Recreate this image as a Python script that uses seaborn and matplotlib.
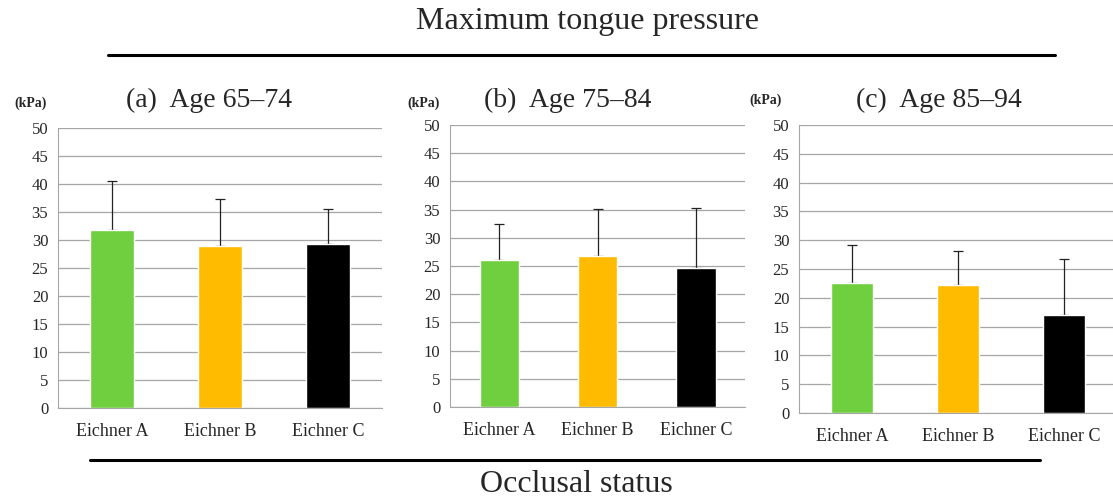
import numpy as np
import pandas as pd
import matplotlib
matplotlib.use("Agg")
import matplotlib.pyplot as plt
import seaborn as sns

# Maximum tongue pressure (kPa) by Eichner group, per age band
groups = ["Eichner A", "Eichner B", "Eichner C"]
colors = ["#6fcf3f", "#ffbb00", "#000000"]
panel_titles = ["(a)  Age 65\u201374", "(b)  Age 75\u201384", "(c)  Age 85\u201394"]

mean_65_74 = [31.8, 29.0, 29.3]
sd_65_74 = [8.8, 8.4, 6.2]
mean_75_84 = [26.1, 26.8, 24.6]
sd_75_84 = [6.3, 8.3, 10.7]
mean_85_94 = [22.5, 22.3, 17.0]
sd_85_94 = [6.7, 5.9, 9.7]

means = [mean_65_74, mean_75_84, mean_85_94]
sds = [sd_65_74, sd_75_84, sd_85_94]

sns.set_style("white")
plt.rcParams["font.family"] = ["Liberation Serif", "DejaVu Serif"]

W, H = 1113, 500
fig = plt.figure(figsize=(W / 100, H / 100), dpi=100)

# axes boxes in pixels: left, right, top (y=50), bottom (y=0)
boxes = [(58, 382, 128, 408), (450, 745, 125, 407), (799, 1117, 125, 413)]
title_x = [209, 568, 939]
kpa_x = [31, 424, 766]
kpa_y = [103, 103, 100]

for i in range(3):
    l, r, t, b = boxes[i]
    ax = fig.add_axes([l / W, (H - b) / H, (r - l) / W, (b - t) / H])
    df = pd.DataFrame({"group": groups, "mean": means[i]})
    sns.barplot(data=df, x="group", y="mean", hue="group", palette=colors,
                width=0.4, legend=False, ax=ax, saturation=1, zorder=2)
    # upper error bars only; the lower cap sits behind the bar
    ax.errorbar(np.arange(3), means[i], yerr=[np.zeros(3), sds[i]],
                fmt="none", ecolor="#222222", elinewidth=0.9, capsize=3.5,
                capthick=0.9, zorder=1)
    ax.set_ylim(0, 50)
    ax.set_xlim(-0.5, 2.5)
    ax.set_yticks(range(0, 51, 5))
    ax.yaxis.grid(True, color="#a6a6a6", linewidth=0.9)
    ax.set_axisbelow(True)
    for s in ["top", "right"]:
        ax.spines[s].set_visible(False)
    ax.spines["left"].set_color("#a6a6a6")
    ax.spines["bottom"].set_color("#a6a6a6")
    ax.set_xticks([0.5, 1.5], minor=True)
    ax.tick_params(axis="x", which="major", length=0, labelsize=13, pad=11)
    ax.tick_params(axis="x", which="minor", length=6, color="#a6a6a6",
                   direction="out")
    ax.tick_params(axis="y", length=4, color="#a6a6a6", labelsize=12, pad=3)
    ax.set_xlabel("")
    ax.set_ylabel("")
    fig.text(title_x[i] / W, 1 - 100 / H, panel_titles[i], fontsize=20,
             ha="center", va="center")
    fig.text(kpa_x[i] / W, 1 - kpa_y[i] / H, "(kPa)", fontsize=10,
             fontweight="bold", ha="center", va="center")

fig.text(588 / W, 1 - 22 / H, "Maximum tongue pressure", fontsize=23,
         ha="center", va="center")
fig.text(576 / W, 1 - 484 / H, "Occlusal status", fontsize=23,
         ha="center", va="center")
fig.add_artist(plt.Line2D([108 / W, 1055 / W], [1 - 55 / H, 1 - 55 / H],
                          color="black", linewidth=2.2))
fig.add_artist(plt.Line2D([90 / W, 1040 / W], [1 - 460 / H, 1 - 460 / H],
                          color="black", linewidth=2.2))

fig.savefig("out.png", dpi=100)
